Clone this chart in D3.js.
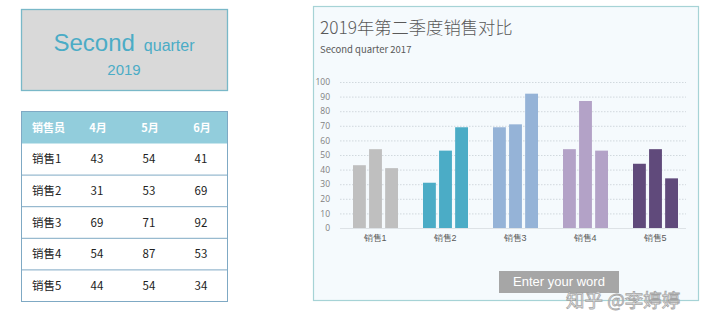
<!DOCTYPE html>
<html><head><meta charset="utf-8">
<script src="https://cdn.jsdelivr.net/npm/d3@7"></script>
<style>
html,body{margin:0;padding:0;background:#fff;}
svg{display:block;font-family:"Noto Sans CJK SC","Open Sans","Noto Sans",sans-serif;}
</style></head>
<body><svg id="c" width="720" height="326"></svg>
<script>
// Sales staff and months
const sellers = ["销售1", "销售2", "销售3", "销售4", "销售5"];
const months = ["4月", "5月", "6月"];
// Monthly sales per seller (April, May, June)
const apr = [43, 31, 69, 54, 44];
const may = [54, 53, 71, 87, 54];
const jun = [41, 69, 92, 53, 34];
const groupColors = ["#bfbfbf", "#4bacc6", "#95b3d7", "#b3a2c7", "#604a7b"];
const yTicks = [0, 10, 20, 30, 40, 50, 60, 70, 80, 90, 100];

const svg = d3.select("#c");

// ---- Heading box ----
svg.append("rect").attr("x", 21.5).attr("y", 9.5).attr("width", 206).attr("height", 81)
  .attr("fill", "#d9d9d9").attr("stroke", "#79b8c8").attr("stroke-width", 1.3);
const h = svg.append("text").attr("x", 124).attr("y", 51).attr("text-anchor", "middle")
  .attr("fill", "#4bacc6").attr("font-family", "Liberation Sans, Arial, sans-serif");
h.append("tspan").attr("font-size", 24).text("Second");
h.append("tspan").attr("font-size", 16).attr("dx", 9).text("quarter");
svg.append("text").attr("x", 124).attr("y", 75).attr("text-anchor", "middle")
  .attr("fill", "#4bacc6").attr("font-size", 15).attr("font-family", "Liberation Sans, Arial, sans-serif")
  .text("2019");

// ---- Data table ----
const tX = 21.5, tY = 111.5, tW = 206, headH = 32, rowH = 31.6;
const colX = [32, 98, 150, 202];
svg.append("rect").attr("x", tX).attr("y", tY).attr("width", tW).attr("height", headH).attr("fill", "#92cddc");
const header = ["销售员"].concat(months);
header.forEach((t, i) => {
  svg.append("text").attr("x", colX[i]).attr("y", tY + headH / 2 + 4)
    .attr("text-anchor", i === 0 ? "start" : "middle").attr("fill", "#fff")
    .attr("font-weight", "bold").attr("font-size", 11).text(t);
});
sellers.forEach((s, r) => {
  const y = tY + headH + r * rowH;
  const cells = [s, apr[r], may[r], jun[r]];
  cells.forEach((v, i) => {
    svg.append("text").attr("x", i === 0 ? colX[0] : colX[i] - 1).attr("y", y + rowH / 2 + 4)
      .attr("text-anchor", i === 0 ? "start" : "middle").attr("fill", "#222")
      .attr("font-size", 11.5).text(v);
  });
  svg.append("line").attr("x1", tX).attr("x2", tX + tW).attr("y1", y + rowH).attr("y2", y + rowH)
    .attr("stroke", "#7fa9c4").attr("stroke-width", 1);
});
svg.append("rect").attr("x", tX).attr("y", tY).attr("width", tW).attr("height", headH + rowH * 5)
  .attr("fill", "none").attr("stroke", "#7fa9c4").attr("stroke-width", 1);

// ---- Chart panel ----
svg.append("rect").attr("x", 313.5).attr("y", 6.5).attr("width", 385).attr("height", 294)
  .attr("fill", "#f5fafd").attr("stroke", "#a6d3d6").attr("stroke-width", 1.2);
svg.append("text").attr("x", 320).attr("y", 34).attr("fill", "#595959").attr("font-size", 17.3)
  .attr("font-weight", 300).text("2019年第二季度销售对比");
svg.append("text").attr("x", 320).attr("y", 53).attr("fill", "#595959").attr("font-size", 9.5)
  .text("Second quarter 2017");

const x0 = d3.scaleBand().domain(sellers).range([340, 690]);
const x1 = d3.scaleBand().domain(months).range([-22, 23]).paddingInner(0.2);
const y = d3.scaleLinear().domain([0, 100]).range([228, 82]);

// Grid lines
svg.append("g").selectAll("line").data(yTicks.filter(d => d > 0)).join("line")
  .attr("x1", 340).attr("x2", 686).attr("y1", d => y(d) + 0.5).attr("y2", d => y(d) + 0.5)
  .attr("stroke", "#c8d0d6").attr("stroke-width", 0.8).attr("stroke-dasharray", "1.5,1.5");
svg.append("line").attr("x1", 340).attr("x2", 686).attr("y1", y(0) + 0.5).attr("y2", y(0) + 0.5)
  .attr("stroke", "#dde2e6").attr("stroke-width", 1);

// Y axis labels
const yAxis = d3.axisLeft(y).tickValues(yTicks).tickSize(0).tickPadding(0);
const ya = svg.append("g").attr("transform", "translate(330,0)").call(yAxis);
ya.select(".domain").remove();
ya.selectAll("text").attr("fill", "#7f7f7f").attr("font-size", 8.5)
  .attr("font-family", "Open Sans, sans-serif");

// Bars
const groups = svg.append("g").selectAll("g").data(sellers).join("g")
  .attr("transform", d => `translate(${x0(d) + x0.bandwidth() / 2},0)`);
groups.selectAll("rect").data((d, i) => [apr[i], may[i], jun[i]].map((v, j) => ({ v, m: months[j], c: groupColors[i] })))
  .join("rect")
  .attr("x", d => x1(d.m)).attr("width", x1.bandwidth())
  .attr("y", d => y(d.v)).attr("height", d => y(0) - y(d.v))
  .attr("fill", d => d.c);

// X axis labels
const xAxis = d3.axisBottom(x0).tickSize(0).tickPadding(7);
const xa = svg.append("g").attr("transform", `translate(0,${y(0)})`).call(xAxis);
xa.select(".domain").remove();
xa.selectAll("text").attr("fill", "#595959").attr("font-size", 9);

// Button
svg.append("rect").attr("x", 499).attr("y", 271).attr("width", 120).attr("height", 22).attr("fill", "#a6a6a6");
svg.append("text").attr("x", 559).attr("y", 286).attr("text-anchor", "middle").attr("fill", "#fff")
  .attr("font-size", 13).attr("font-family", "Liberation Sans, Arial, sans-serif").text("Enter your word");

// Watermark
svg.append("text").attr("x", 566).attr("y", 307).attr("fill", "#fff").attr("stroke", "#9a9a9a")
  .attr("stroke-width", 0.8).attr("font-size", 18.5).attr("opacity", 0.9).text("知乎 @李婷婷");
</script></body></html>
